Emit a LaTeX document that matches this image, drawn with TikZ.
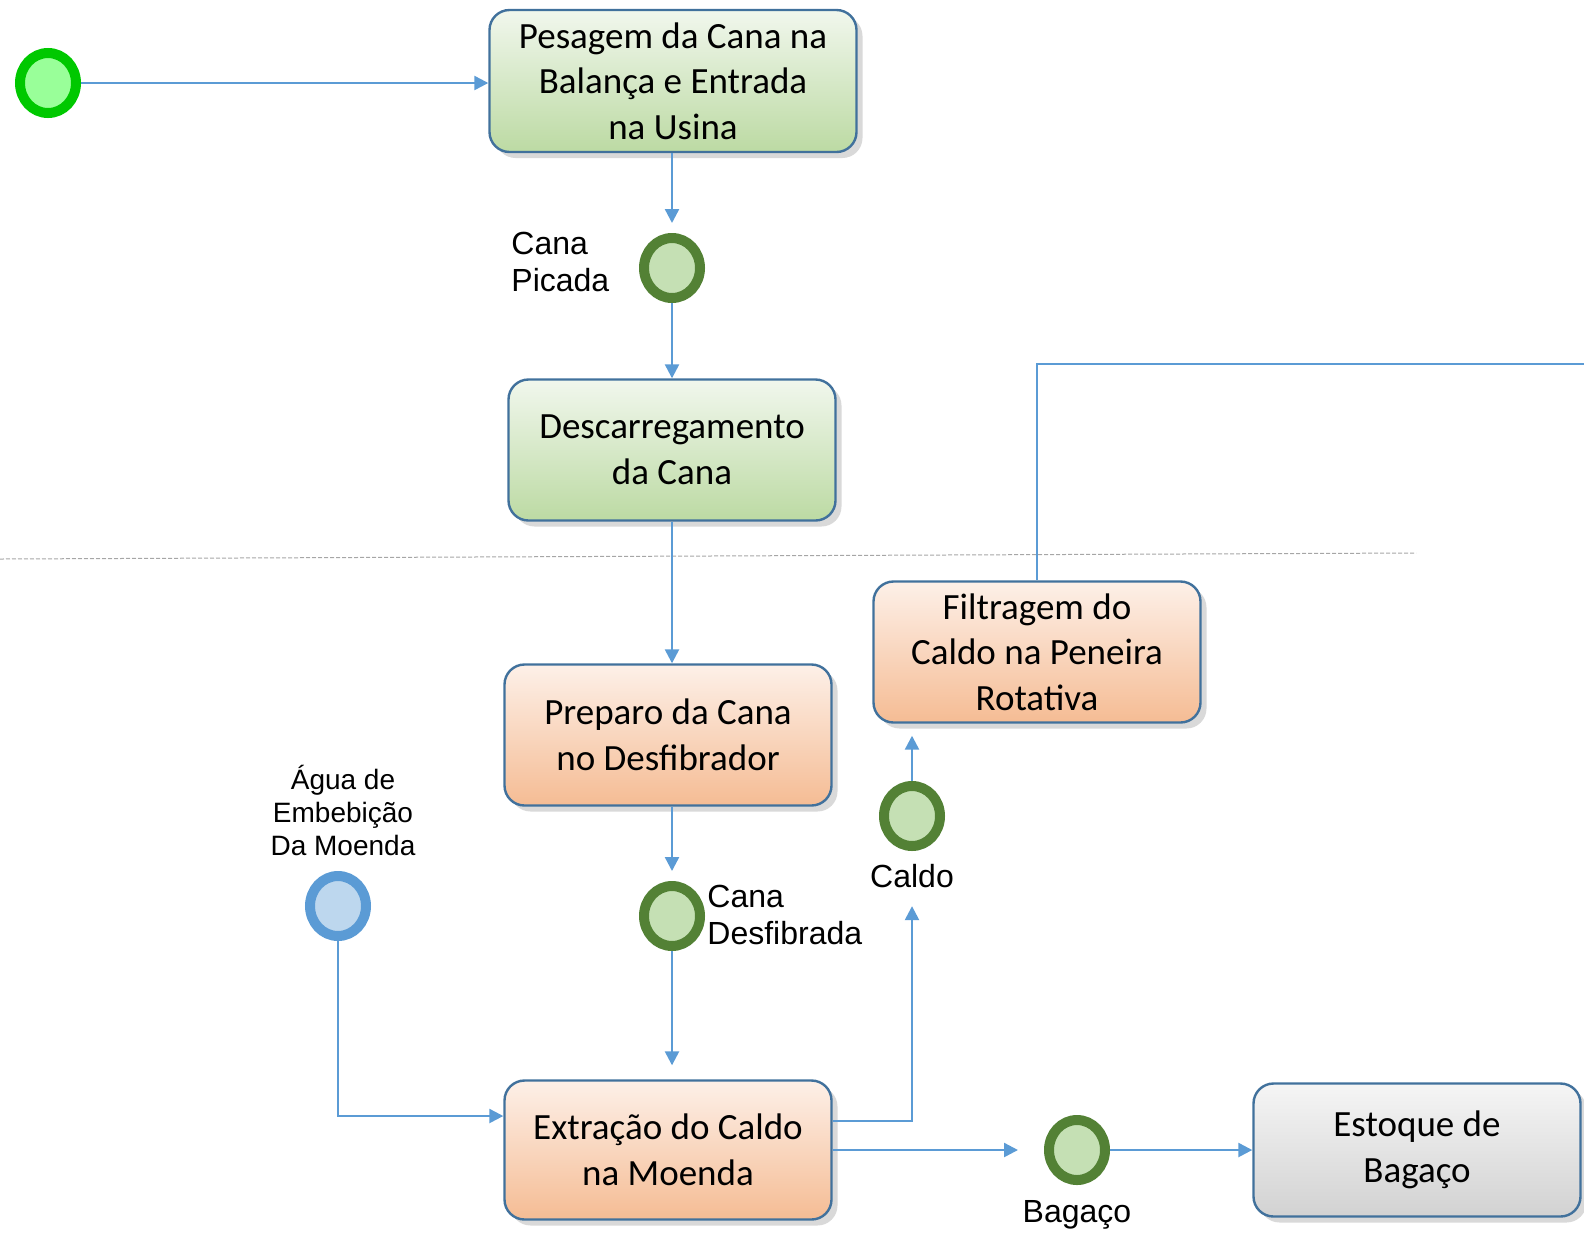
\documentclass[tikz,border=0pt]{standalone}
\usepackage{fontspec}
\setmainfont{Carlito}
\newfontfamily\arialfont{Liberation Sans}
\usetikzlibrary{shapes.geometric,shadows,arrows.meta}

\definecolor{fluxoazul}{HTML}{5B9BD5}
\definecolor{bordaetapa}{HTML}{41719C}
\definecolor{verdetopo}{HTML}{F1F7ED}
\definecolor{verdebase}{HTML}{BCDAA3}
\definecolor{laranjatopo}{HTML}{FDF0E8}
\definecolor{laranjabase}{HTML}{F5BC94}
\definecolor{cinzatopo}{HTML}{F5F5F5}
\definecolor{cinzabase}{HTML}{D2D2D2}
\definecolor{inicioanel}{HTML}{00C800}
\definecolor{iniciofundo}{HTML}{99FF99}
\definecolor{estadoanel}{HTML}{538135}
\definecolor{estadofundo}{HTML}{C5E0B4}
\definecolor{aguafundo}{HTML}{BDD7EE}

\tikzset{
  etapa/.style={draw=bordaetapa, line width=1.2pt, rounded corners=10pt,
    align=center, inner sep=0pt, font=\fontsize{18.5}{22.75}\selectfont,
    minimum width=163.5pt, minimum height=70.5pt,
    drop shadow={opacity=0.3, shadow xshift=3pt, shadow yshift=-3pt}},
  verde/.style={etapa, top color=verdetopo, bottom color=verdebase},
  laranja/.style={etapa, top color=laranjatopo, bottom color=laranjabase},
  cinza/.style={etapa, top color=cinzatopo, bottom color=cinzabase},
  estado/.style={ellipse, line width=5pt, minimum width=28pt, minimum height=30pt,
    inner sep=0pt, draw=estadoanel, fill=estadofundo},
  rotulo/.style={inner sep=0pt, align=left, font=\arialfont\fontsize{16}{18.5}\selectfont},
  fluxo/.style={draw=fluxoazul, line width=1.2pt, -{Triangle[length=7pt,width=7pt]}},
}

\begin{document}
\begin{tikzpicture}[x=0.5pt, y=-0.5pt]
\useasboundingbox (0,0) rectangle (1584,1233);

\draw[gray!70, line width=0.5pt, dash pattern=on 2pt off 1pt] (0,559) -- (1416,553);

\node[estado, draw=inicioanel, fill=iniciofundo] (inicio) at (48,83) {};
\node[verde, minimum width=183.5pt, minimum height=71pt] (pesagem) at (673,81)
  {Pesagem da Cana na\\Balança e Entrada\\na Usina};
\node[estado] (picada) at (672,268) {};
\node[rotulo, anchor=west] (picadalbl) at (511,262) {Cana\\Picada};
\node[verde] (descarga) at (672,450) {Descarregamento\\da Cana};
\node[laranja] (preparo) at (668,735) {Preparo da Cana\\no Desfibrador};
\node[estado] (desfibrada) at (672,916) {};
\node[rotulo, anchor=west] (desfibradalbl) at (707,915) {Cana\\Desfibrada};
\node[estado, draw=fluxoazul, fill=aguafundo] (agua) at (338,906) {};
\node[rotulo, align=center, font=\arialfont\fontsize{14}{16.5}\selectfont] (agualbl) at (343,810)
  {Água de\\Embebição\\Da Moenda};
\node[laranja, minimum height=69.5pt] (extracao) at (668,1150) {Extração do Caldo\\na Moenda};
\node[estado] (caldo) at (912,816) {};
\node[rotulo] (caldolbl) at (912,876) {Caldo};
\node[laranja] (filtragem) at (1037,652) {Filtragem do\\Caldo na Peneira\\Rotativa};
\node[estado] (bagaco) at (1077,1150) {};
\node[rotulo] (bagacolbl) at (1077,1215) {Bagaço};
\node[cinza, minimum height=66.5pt] (estoque) at (1417,1150) {Estoque de\\Bagaço};
\coordinate (saida) at (1584,364);

\draw[fluxo] (inicio.east) -- (inicio.east -| pesagem.west);
\draw[fluxo, shorten >=5pt] (picada.north |- pesagem.south) -- (picada.north);
\draw[fluxo] (picada.south) -- (descarga.north);
\draw[fluxo] (descarga.south) -- (preparo.north -| descarga.south);
\draw[fluxo, shorten >=5pt] (desfibrada.north |- preparo.south) -- (desfibrada.north);
\draw[fluxo, shorten >=7pt] (desfibrada.south) -- (extracao.north -| desfibrada.south);
\draw[fluxo] (agua.south) |- ([yshift=17pt]extracao.west);
\draw[fluxo, shorten >=9pt] ([yshift=14.5pt]extracao.east) -| (caldolbl.south);
\draw[fluxo, shorten >=6pt] (caldo.north) -- (filtragem.south -| caldo.north);
\draw[draw=fluxoazul, line width=1.2pt] (filtragem.north) |- (saida);
\draw[fluxo, shorten >=13pt] (extracao.east) -- (bagaco.west);
\draw[fluxo] (bagaco.east) -- (estoque.west);
\end{tikzpicture}
\end{document}
